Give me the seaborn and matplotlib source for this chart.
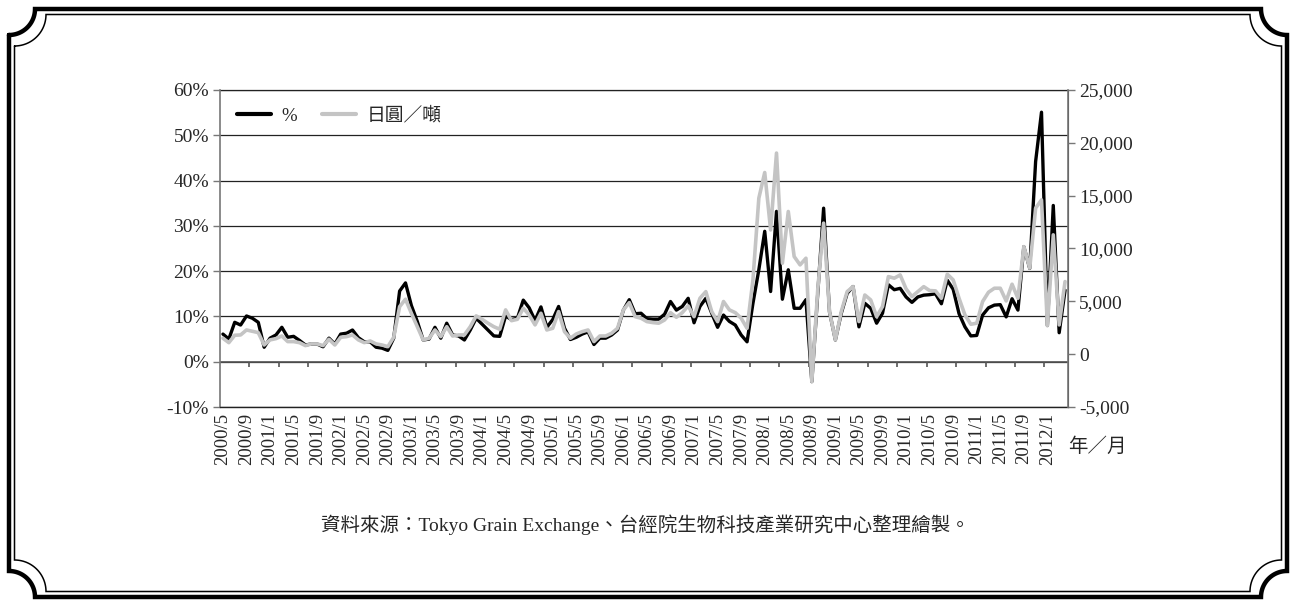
import numpy as np
import pandas as pd
import seaborn as sns
import matplotlib.pyplot as plt
from matplotlib.lines import Line2D
from matplotlib.ticker import FuncFormatter

sns.set_style("white")
plt.rcParams['font.family'] = ['Liberation Serif', 'Noto Sans CJK TC']

# monthly values, 2000/5 .. 2012/4
pct = [6.1, 5.0, 8.7, 8.1, 10.1, 9.6, 8.7, 3.2, 5.2, 5.9, 7.6, 5.4,
       5.6, 4.7, 3.7, 3.9, 3.9, 3.3, 5.2, 3.9, 6.1, 6.3, 7.0, 5.3,
       4.4, 4.4, 3.2, 3.0, 2.5, 5.2, 15.6, 17.4, 12.4, 8.9, 4.8, 5.0,
       7.6, 5.2, 8.5, 5.9, 5.7, 4.8, 7.0, 9.6, 8.3, 7.0, 5.7, 5.6,
       10.1, 9.3, 9.6, 13.6, 11.9, 9.1, 12.1, 7.6, 9.3, 12.2, 7.4, 4.9,
       5.4, 6.1, 6.6, 3.8, 5.2, 5.2, 5.9, 7.0, 11.4, 13.7, 10.6, 10.7,
       9.5, 9.4, 9.4, 10.5, 13.3, 11.4, 12.2, 14.0, 8.6, 12.2, 14.0, 10.7,
       7.6, 10.3, 8.9, 8.1, 5.9, 4.4, 12.9, 20.3, 28.8, 15.5, 33.2, 13.8,
       20.3, 11.8, 11.8, 13.7, -4.4, 15.0, 33.9, 11.0, 4.8, 10.7, 15.1, 16.6,
       7.7, 12.9, 11.8, 8.5, 10.7, 17.0, 15.9, 16.2, 14.3, 13.1, 14.3, 14.7,
       14.8, 15.0, 12.8, 18.0, 16.0, 10.6, 7.7, 5.7, 5.8, 10.3, 11.9, 12.5,
       12.6, 9.9, 13.9, 11.4, 25.4, 20.6, 44.2, 55.1, 8.0, 34.5, 6.4, 15.8]

yen = [1510, 1090, 1790, 1820, 2290, 2170, 2040, 870, 1350, 1470, 1720, 1190,
       1190, 1090, 810, 970, 970, 810, 1410, 870, 1600, 1660, 1820, 1350,
       1090, 1250, 970, 870, 710, 1600, 4500, 5200, 3870, 2600, 1350, 1500,
       2290, 1660, 2600, 1720, 1820, 1820, 2600, 3620, 3300, 2930, 2600, 2360,
       4190, 3170, 3300, 4350, 3710, 2770, 3870, 2290, 2450, 4030, 2130, 1510,
       1910, 2130, 2290, 1190, 1720, 1720, 1980, 2450, 4190, 4880, 3550, 3400,
       3080, 2990, 2930, 3240, 3930, 3490, 3930, 4570, 3550, 5290, 5920, 4030,
       3080, 4980, 4190, 3930, 3400, 2450, 7030, 14760, 17190, 11760, 19030, 8610,
       13500, 9240, 8450, 9080, -2600, 6080, 12400, 4030, 1350, 4030, 5920, 6390,
       3080, 5600, 5130, 3550, 4500, 7340, 7190, 7500, 6180, 5450, 5920, 6390,
       6020, 5990, 5290, 7570, 7030, 5290, 3710, 2830, 2930, 4980, 5860, 6240,
       6240, 5040, 6620, 5290, 10180, 8140, 13820, 14600, 2700, 11290, 2770, 6870]

tick_labels = ['2000/5', '2000/9', '2001/1', '2001/5', '2001/9', '2002/1',
               '2002/5', '2002/9', '2003/1', '2003/5', '2003/9', '2004/1',
               '2004/5', '2004/9', '2005/1', '2005/5', '2005/9', '2006/1',
               '2006/5', '2006/9', '2007/1', '2007/5', '2007/9', '2008/1',
               '2008/5', '2008/9', '2009/1', '2009/5', '2009/9', '2010/1',
               '2010/5', '2010/9', '2011/1', '2011/5', '2011/9', '2012/1']

df = pd.DataFrame({'idx': np.arange(len(pct)), 'pct': pct, 'yen': yen})

W, H = 1292, 601
fig = plt.figure(figsize=(W / 100, H / 100), dpi=100)

# decorative frame
bg = fig.add_axes([0, 0, 1, 1], zorder=0)
bg.set_xlim(0, W)
bg.set_ylim(H, 0)
bg.axis('off')


def frame(x0, y0, x1, y1, r):
    t = np.linspace(0, np.pi / 2, 30)
    xs = [x0 + r * np.sin(t), x1 - r * np.cos(t), x1 - r * np.sin(t), x0 + r * np.cos(t)]
    ys = [y0 + r * np.cos(t), y0 + r * np.sin(t), y1 - r * np.cos(t), y1 - r * np.sin(t)]
    xx = np.concatenate(xs + [xs[0][:1]])
    yy = np.concatenate(ys + [ys[0][:1]])
    return xx, yy


fx, fy = frame(9, 9, 1287, 597, 26)
bg.plot(fx, fy, color='black', lw=3.2, solid_joinstyle='miter')
fx, fy = frame(14.5, 14.5, 1281.5, 591.5, 31.5)
bg.plot(fx, fy, color='black', lw=1.1, solid_joinstyle='miter')

bg.text(1068, 447, '年／月', fontsize=14, va='center', ha='left')
bg.text(645, 525, '資料來源：Tokyo Grain Exchange、台經院生物科技產業研究中心整理繪製。',
        fontsize=14, va='center', ha='center')

# chart
ax = fig.add_axes([220 / W, 1 - 407 / H, 848 / W, 317 / H], zorder=1)
ax.patch.set_visible(False)
ax2 = ax.twinx()

sns.lineplot(data=df, x='idx', y='pct', ax=ax, color='black', lw=2.4, legend=False)
sns.lineplot(data=df, x='idx', y='yen', ax=ax2, color='#c4c4c4', lw=2.6, legend=False)

n = len(pct)
ax.set_xlim(-0.5, n - 0.5)
ax.set_ylim(-10, 60)
ax.set_yticks(range(-10, 61, 10))
ax.yaxis.set_major_formatter(FuncFormatter(lambda v, p: f'{int(v)}%'))
ax2.set_ylim(-5000, 25000)
ax2.set_yticks(range(-5000, 25001, 5000))
ax2.yaxis.set_major_formatter(FuncFormatter(lambda v, p: f'{int(v):,}'))

for a in (ax, ax2):
    a.set_xlabel('')
    a.set_ylabel('')
    a.spines['top'].set_visible(False)
ax2.spines['bottom'].set_visible(False)
ax2.spines['left'].set_visible(False)

# bottom gridline (-10%) drawn as the bottom spine
ax.spines['bottom'].set_visible(True)
ax.spines['bottom'].set_color('#222222')
ax.spines['bottom'].set_linewidth(1.0)

ax.grid(axis='y', color='#222222', lw=0.9)
ax.axhline(60, color='#222222', lw=0.9, clip_on=False)
ax.spines['left'].set_color('#777777')
ax.spines['left'].set_linewidth(1.2)
ax2.spines['right'].set_color('#777777')
ax2.spines['right'].set_linewidth(1.2)

ax.set_xticks(np.arange(0, n, 4))
ax.set_xticklabels(tick_labels, rotation=90, fontsize=13.5)
ax.tick_params(axis='x', length=0, pad=4)
ax.tick_params(axis='y', left=True, length=5, width=1, color='#777777', labelsize=14, pad=3)
ax2.tick_params(axis='y', right=True, length=5, width=1, color='#777777', labelsize=14, pad=3)

# category axis at 0 with its tick marks between categories
ax.axhline(0, color='#555555', lw=1.2)
ax.vlines(np.arange(4.5, n, 5), -1.2, 0, color='#555555', lw=1.2)

handles = [Line2D([], [], color='black', lw=3),
           Line2D([], [], color='#c4c4c4', lw=3)]
ax2.legend(handles, ['%', '日圓／噸'], loc='upper left', bbox_to_anchor=(0.0, 1.0),
           ncol=2, frameon=False, fontsize=13.5, handlelength=1.8,
           columnspacing=1.3, handletextpad=0.6)

fig.savefig('out.png', dpi=100)
